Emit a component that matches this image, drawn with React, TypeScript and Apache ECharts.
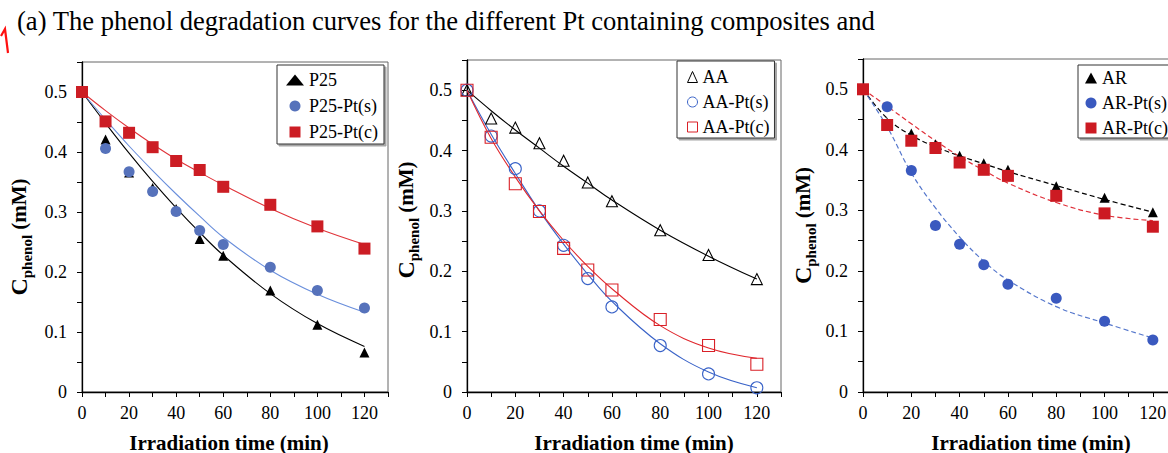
import React, { useEffect, useRef } from 'react';
import * as echarts from 'echarts';

// ---------- data ----------
const TIME = [0, 10, 20, 30, 40, 50, 60, 80, 100, 120];

// panel 1
const P25 = [0.5, 0.421, 0.366, 0.34, 0.305, 0.255, 0.227, 0.169, 0.112, 0.066];
const P25_PT_S = [0.5, 0.406, 0.367, 0.334, 0.301, 0.269, 0.246, 0.208, 0.169, 0.14];
const P25_PT_C = [0.5, 0.451, 0.432, 0.408, 0.385, 0.37, 0.342, 0.312, 0.276, 0.239];
const FIT_P25 = [0.5, 0.448, 0.398, 0.351, 0.307, 0.266, 0.228, 0.164, 0.114, 0.076];
const FIT_P25_PT_S = [0.5, 0.454, 0.41, 0.369, 0.33, 0.293, 0.258, 0.203, 0.163, 0.133];
const FIT_P25_PT_C = [0.5, 0.469, 0.44, 0.413, 0.388, 0.366, 0.345, 0.306, 0.273, 0.246];

// panel 2
const AA = [0.5, 0.453, 0.438, 0.412, 0.383, 0.347, 0.316, 0.268, 0.227, 0.187];
const AA_PT_S = [0.5, 0.424, 0.37, 0.3, 0.243, 0.188, 0.141, 0.077, 0.03, 0.007];
const AA_PT_C = [0.5, 0.422, 0.345, 0.299, 0.238, 0.202, 0.169, 0.12, 0.077, 0.046];
const FIT_AA = [0.5, 0.466, 0.434, 0.404, 0.374, 0.346, 0.318, 0.268, 0.225, 0.187];
const FIT_AA_PT_S = [0.5, 0.427, 0.362, 0.3, 0.245, 0.195, 0.15, 0.08, 0.033, 0.007];
const FIT_AA_PT_C = [0.5, 0.42, 0.356, 0.3, 0.251, 0.208, 0.171, 0.11, 0.073, 0.056];

// panel 3
const AR = [0.5, 0.445, 0.427, 0.409, 0.39, 0.378, 0.367, 0.34, 0.321, 0.297];
const AR_PT_S = [0.5, 0.471, 0.366, 0.275, 0.244, 0.21, 0.178, 0.155, 0.117, 0.086];
const AR_PT_C = [0.5, 0.441, 0.415, 0.403, 0.379, 0.367, 0.357, 0.324, 0.295, 0.273];
const FIT_AR = [0.5, 0.452, 0.424, 0.405, 0.39, 0.377, 0.364, 0.341, 0.318, 0.297];
const FIT_AR_PT_S = [0.5, 0.438, 0.362, 0.304, 0.256, 0.216, 0.185, 0.141, 0.114, 0.089];
const FIT_AR_PT_C = [0.5, 0.472, 0.443, 0.415, 0.389, 0.366, 0.345, 0.313, 0.292, 0.283];

const X_TICK_LABELS = ['0', '20', '40', '60', '80', '100', '120'];
const Y_TICK_LABELS = ['0', '0.1', '0.2', '0.3', '0.4', '0.5'];

const TITLE = '(a) The phenol degradation curves for the different Pt containing composites and';
const X_NAME = 'Irradiation time (min)';
const Y_NAME = '{c|C}{s|phenol}{m| (mM)}';

const SERIF = 'Liberation Serif, Times New Roman, serif';
const SQUARE_ICON = 'path://M0 0h10v10h-10z';

const pairs = (ys: number[]) => TIME.map((t, i) => [t, ys[i]]);

type Pt = { name: string; data: number[]; symbol: string; size: number; fill: string; stroke?: string };
type Fit = { name: string; data: number[]; color: string; dashed: boolean };

const PANELS: { grid: any; legend: any; points: Pt[]; fits: Fit[]; yGap: number; yPad: number[]; xGap: number; xPad: number[] }[] = [
  {
    grid: { left: 82, top: 62, width: 306, height: 330 },
    legend: { left: 277, top: 65, padding: [6, 6, 3, 9], itemWidth: 18, itemGap: 8 },
    points: [
      { name: 'P25', data: P25, symbol: 'triangle', size: 10, fill: '#000' },
      { name: 'P25-Pt(s)', data: P25_PT_S, symbol: 'circle', size: 11, fill: '#5672bb' },
      { name: 'P25-Pt(c)', data: P25_PT_C, symbol: 'rect', size: 12, fill: '#cc1d24' },
    ],
    fits: [
      { name: 'P25 fit', data: FIT_P25, color: '#000', dashed: false },
      { name: 'P25-Pt(s) fit', data: FIT_P25_PT_S, color: '#6a8fdc', dashed: false },
      { name: 'P25-Pt(c) fit', data: FIT_P25_PT_C, color: '#e0343a', dashed: false },
    ],
    yGap: 48, yPad: [0, 20, 0, 0], xGap: 40, xPad: [0, 12, 0, 0],
  },
  {
    grid: { left: 467, top: 60, width: 314, height: 332 },
    legend: { left: 677, top: 61, padding: [7, 5, 2, 10], itemWidth: 10, itemGap: 7 },
    points: [
      { name: 'AA', data: AA, symbol: 'triangle', size: 11, fill: 'transparent', stroke: '#000' },
      { name: 'AA-Pt(s)', data: AA_PT_S, symbol: 'circle', size: 12, fill: 'transparent', stroke: '#3a63c8' },
      { name: 'AA-Pt(c)', data: AA_PT_C, symbol: 'rect', size: 12, fill: 'transparent', stroke: '#d92027' },
    ],
    fits: [
      { name: 'AA fit', data: FIT_AA, color: '#000', dashed: false },
      { name: 'AA-Pt(s) fit', data: FIT_AA_PT_S, color: '#3a63c8', dashed: false },
      { name: 'AA-Pt(c) fit', data: FIT_AA_PT_C, color: '#e0282e', dashed: false },
    ],
    yGap: 46, yPad: [0, 0, 0, 12], xGap: 40, xPad: [0, 0, 0, 20],
  },
  {
    grid: { left: 863, top: 59, width: 314, height: 333 },
    legend: { left: 1078, top: 65, padding: [4, 5, 1, 7], itemWidth: 12, itemGap: 7 },
    points: [
      { name: 'AR', data: AR, symbol: 'triangle', size: 10, fill: '#000' },
      { name: 'AR-Pt(s)', data: AR_PT_S, symbol: 'circle', size: 11, fill: '#3a59bf' },
      { name: 'AR-Pt(c)', data: AR_PT_C, symbol: 'rect', size: 12, fill: '#cc1a22' },
    ],
    fits: [
      { name: 'AR fit', data: FIT_AR, color: '#000', dashed: true },
      { name: 'AR-Pt(s) fit', data: FIT_AR_PT_S, color: '#5577cc', dashed: true },
      { name: 'AR-Pt(c) fit', data: FIT_AR_PT_C, color: '#e0303a', dashed: true },
    ],
    yGap: 45, yPad: [0, 0, 0, 0], xGap: 40, xPad: [0, 0, 0, 22],
  },
];

const xLabel = (v: number) => {
  const s = String(Math.round(v));
  return X_TICK_LABELS.includes(s) ? s : '';
};
const yLabel = (v: number) => {
  const r = Math.round(v * 100);
  if (r % 10 !== 0) return '';
  const s = String(r / 100);
  return Y_TICK_LABELS.includes(s) ? s : '';
};

function buildOption() {
  const grid: any[] = [];
  const xAxis: any[] = [];
  const yAxis: any[] = [];
  const legend: any[] = [];
  const series: any[] = [];
  PANELS.forEach((p, i) => {
    grid.push({
      ...p.grid,
      containLabel: false,
      outerBoundsMode: 'none',
      show: true,
      borderColor: '#666',
      borderWidth: 1,
      backgroundColor: 'transparent',
    });
    xAxis.push({
      gridIndex: i,
      type: 'value',
      min: 0,
      max: 130,
      interval: 10,
      name: X_NAME,
      nameLocation: 'middle',
      nameGap: p.xGap,
      nameTextStyle: { fontFamily: SERIF, fontWeight: 'bold', fontSize: 21, color: '#000', padding: p.xPad },
      axisLine: { show: true, onZero: false, lineStyle: { color: '#000', width: 1.3 } },
      axisTick: { show: true, inside: false, length: 5, lineStyle: { color: '#000', width: 1 } },
      axisLabel: { formatter: xLabel, fontFamily: SERIF, fontSize: 18, color: '#000', margin: 12, showMaxLabel: true, showMinLabel: true },
      splitLine: { show: false },
    });
    yAxis.push({
      gridIndex: i,
      type: 'value',
      min: 0,
      max: 0.55,
      interval: 0.05,
      name: Y_NAME,
      nameLocation: 'middle',
      nameRotate: 90,
      nameGap: p.yGap,
      nameTextStyle: {
        fontFamily: SERIF,
        fontWeight: 'bold',
        color: '#000',
        padding: p.yPad,
        rich: {
          c: { fontFamily: SERIF, fontWeight: 'bold', fontSize: 24, lineHeight: 30, verticalAlign: 'middle', color: '#000' },
          s: { fontFamily: SERIF, fontWeight: 'bold', fontSize: 15, lineHeight: 12, verticalAlign: 'bottom', color: '#000' },
          m: { fontFamily: SERIF, fontWeight: 'bold', fontSize: 21, lineHeight: 30, verticalAlign: 'middle', color: '#000' },
        },
      },
      axisLine: { show: true, onZero: false, lineStyle: { color: '#000', width: 1.3 } },
      axisTick: { show: true, inside: false, length: 5, lineStyle: { color: '#000', width: 1 } },
      axisLabel: { formatter: yLabel, fontFamily: SERIF, fontSize: 18, color: '#000', margin: 15 },
      splitLine: { show: false },
    });
    legend.push({
      orient: 'vertical',
      left: p.legend.left,
      top: p.legend.top,
      padding: p.legend.padding,
      itemWidth: p.legend.itemWidth,
      itemHeight: 11,
      itemGap: p.legend.itemGap,
      borderColor: '#333',
      borderWidth: 1,
      backgroundColor: '#fff',
      shadowColor: 'rgba(0,0,0,0.35)',
      shadowBlur: 1,
      shadowOffsetX: 2,
      shadowOffsetY: 2,
      selectedMode: false,
      textStyle: { fontFamily: SERIF, fontSize: 18, color: '#000', lineHeight: 18 },
      itemStyle: i === 1 ? { borderWidth: 1 } : { borderWidth: 0 },
      data: p.points.map((pt) => ({ name: pt.name, icon: pt.symbol === 'rect' ? SQUARE_ICON : pt.symbol })),
    });
    p.fits.forEach((f) => {
      series.push({
        name: f.name,
        type: 'line',
        xAxisIndex: i,
        yAxisIndex: i,
        data: pairs(f.data),
        smooth: 0.4,
        symbol: 'none',
        showSymbol: false,
        silent: true,
        lineStyle: { color: f.color, width: f.dashed ? 1.2 : 1.1, type: f.dashed ? [5, 3] : 'solid' },
        z: 2,
      });
    });
    p.points.forEach((pt) => {
      series.push({
        name: pt.name,
        type: 'scatter',
        xAxisIndex: i,
        yAxisIndex: i,
        data: pairs(pt.data),
        symbol: pt.symbol,
        symbolSize: pt.size,
        silent: true,
        itemStyle: pt.stroke
          ? { color: pt.fill, borderColor: pt.stroke, borderWidth: 1.1, opacity: 1 }
          : { color: pt.fill, opacity: 1 },
        z: 3,
      });
    });
  });

  return {
    animation: false,
    backgroundColor: '#fff',
    grid,
    xAxis,
    yAxis,
    legend,
    series,
    graphic: [
      {
        type: 'text',
        left: 17,
        top: 7,
        style: { text: TITLE, fontFamily: SERIF, fontSize: 26.6, fill: '#000' },
      },
      {
        type: 'polyline',
        shape: { points: [[1, 36], [5, 29], [8, 53]] },
        style: { stroke: '#ff1010', lineWidth: 2.2, fill: 'none' },
      },
    ],
  };
}

export default function App() {
  const ref = useRef<HTMLDivElement>(null);
  useEffect(() => {
    if (!ref.current) return;
    const chart = echarts.init(ref.current, undefined, { renderer: 'svg' });
    chart.setOption(buildOption() as any);
    return () => chart.dispose();
  }, []);
  return (
    <div
      ref={ref}
      style={{ position: 'fixed', left: 0, top: 0, width: 1168, height: 453, background: '#fff' }}
    />
  );
}
